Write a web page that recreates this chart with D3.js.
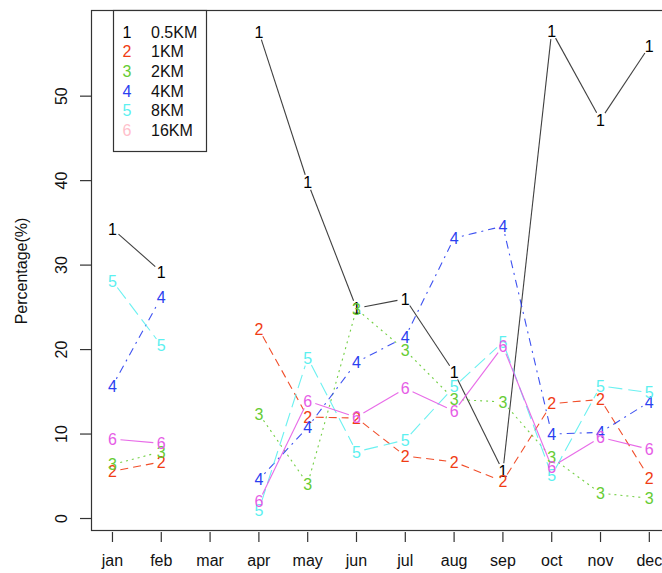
<!DOCTYPE html>
<html>
<head>
<meta charset="utf-8">
<script src="https://cdn.jsdelivr.net/npm/d3@7"></script>
<style>
  body { margin: 0; background: #fff; }
  svg { display: block; font-family: "Liberation Sans", Arial, Helvetica, sans-serif; }
</style>
</head>
<body>
<svg id="chart" width="662" height="573"></svg>
<script>
const months = ["jan","feb","mar","apr","may","jun","jul","aug","sep","oct","nov","dec"];
const seriesNames = ["0.5KM","1KM","2KM","4KM","8KM","16KM"];
const yTicks = [0,10,20,30,40,50];

const s1 = [34.3, 29.2, null, 57.6, 39.8, 24.9, 26.0, 17.3, 5.6, 57.7, 47.2, 55.9];
const s2 = [5.6, 6.7, null, 22.4, 12.0, 11.9, 7.4, 6.7, 4.4, 13.6, 14.1, 4.8];
const s3 = [6.4, 7.9, null, 12.4, 4.1, 24.8, 19.9, 14.1, 13.8, 7.2, 3.0, 2.4];
const s4 = [15.7, 26.2, null, 4.6, 10.8, 18.5, 21.5, 33.2, 34.6, 10.0, 10.2, 13.8];
const s5 = [28.1, 20.5, null, 1.0, 19.0, 7.9, 9.3, 15.6, 20.9, 5.1, 15.7, 14.9];
const s6 = [9.4, 8.9, null, 2.0, 13.9, 12.0, 15.4, 12.7, 20.4, 6.1, 9.6, 8.2];
const seriesValues = [s1, s2, s3, s4, s5, s6];
const pointLabels = ["1","2","3","4","5","6"];

const lineColors = ["#000000", "#f03c14", "#66cc33", "#2a40f0", "#5cf0f0", "#e65ce6"];
const legendColors = ["#000000", "#f03c14", "#66cc33", "#2a40f0", "#5cf0f0", "#ffc0cb"];
const dashes = [null, "8,5", "2,4", "2,5,8,5", "14,6", null];

const svg = d3.select("#chart");
const x = d3.scaleLinear().domain([-0.44, 11.44]).range([91, 670.8]);
const y = d3.scaleLinear().domain([-1.36, 60.2]).range([530, 10]);
const FS = 16;

// plot box
svg.append("rect").attr("x", 91.5).attr("y", 10.5).attr("width", 670 - 91).attr("height", 520)
  .attr("fill", "none").attr("stroke", "#333").attr("stroke-width", 1.2);

// x axis
const xAxis = svg.append("g");
months.forEach((m, i) => {
  xAxis.append("line").attr("x1", x(i)).attr("x2", x(i)).attr("y1", 532).attr("y2", 542)
    .attr("stroke", "#333").attr("stroke-width", 1.2);
  xAxis.append("text").attr("x", x(i)).attr("y", 566).attr("text-anchor", "middle")
    .attr("font-size", FS).attr("fill", "#111").text(m);
});

// y axis
const yAxis = svg.append("g");
yTicks.forEach(t => {
  yAxis.append("line").attr("x1", 80).attr("x2", 91.5).attr("y1", y(t)).attr("y2", y(t))
    .attr("stroke", "#333").attr("stroke-width", 1.2);
  yAxis.append("text").attr("transform", `translate(67,${y(t)}) rotate(-90)`)
    .attr("text-anchor", "middle").attr("font-size", FS).attr("fill", "#111").text(t);
});
svg.append("text").attr("transform", `translate(27,271) rotate(-90)`)
  .attr("text-anchor", "middle").attr("font-size", FS).attr("fill", "#111").text("Percentage(%)");

// series lines (type = "b": segments with gaps around points)
const gap = 8;
seriesValues.forEach((vals, si) => {
  const g = svg.append("g");
  for (let i = 0; i < vals.length - 1; i++) {
    if (vals[i] == null || vals[i + 1] == null) continue;
    const x1 = x(i), y1 = y(vals[i]), x2 = x(i + 1), y2 = y(vals[i + 1]);
    const dx = x2 - x1, dy = y2 - y1, len = Math.hypot(dx, dy);
    if (len <= 2 * gap) continue;
    const ux = dx / len, uy = dy / len;
    const ln = g.append("line")
      .attr("x1", x1 + ux * gap).attr("y1", y1 + uy * gap)
      .attr("x2", x2 - ux * gap).attr("y2", y2 - uy * gap)
      .attr("stroke", lineColors[si]).attr("stroke-width", 1.1).attr("opacity", si === 0 ? 0.75 : 0.9);
    if (dashes[si]) ln.attr("stroke-dasharray", dashes[si]);
  }
});
seriesValues.forEach((vals, si) => {
  vals.forEach((v, i) => {
    if (v == null) return;
    svg.append("text").attr("x", x(i)).attr("y", y(v)).attr("dy", "0.36em")
      .attr("text-anchor", "middle").attr("font-size", FS).attr("fill", lineColors[si])
      .text(pointLabels[si]);
  });
});

// legend
const lg = svg.append("g");
lg.append("rect").attr("x", 113.5).attr("y", 10.5).attr("width", 93).attr("height", 141)
  .attr("fill", "#fff").attr("stroke", "#333").attr("stroke-width", 1.2);
seriesNames.forEach((name, i) => {
  const cy = 32 + i * 19.6;
  lg.append("text").attr("x", 127).attr("y", cy).attr("dy", "0.36em").attr("text-anchor", "middle")
    .attr("font-size", FS).attr("fill", legendColors[i]).text(pointLabels[i]);
  lg.append("text").attr("x", 151).attr("y", cy).attr("dy", "0.36em")
    .attr("font-size", FS).attr("fill", "#111").text(name);
});
</script>
</body>
</html>
